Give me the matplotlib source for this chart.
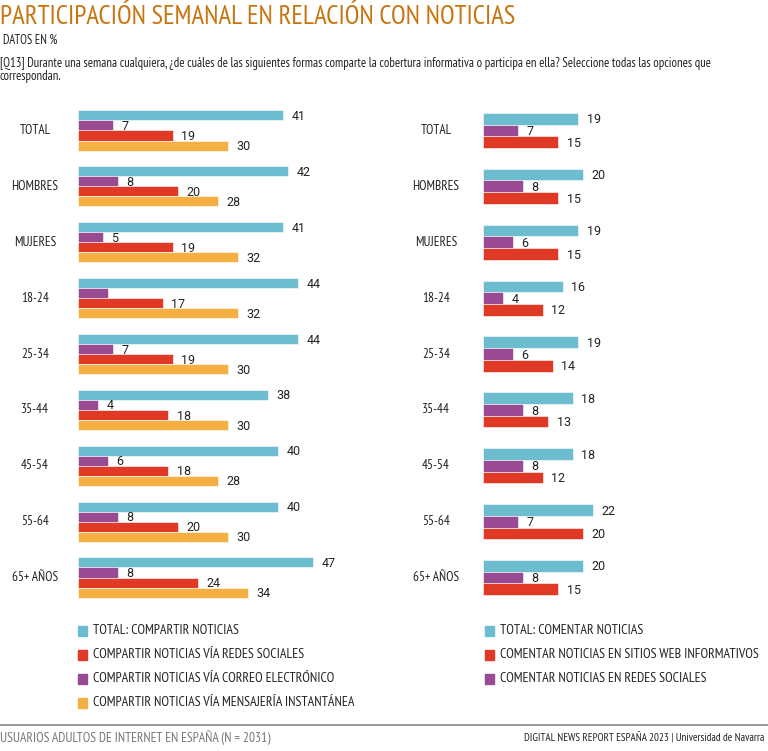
"""Weekly news participation chart (Digital News Report España 2023)."""

import matplotlib
matplotlib.use("Agg")
import matplotlib.pyplot as plt
from matplotlib.patches import Rectangle

BODY_FONT = ["PT Sans Narrow", "Liberation Sans Narrow", "DejaVu Sans"]
NUM_FONT = ["Roboto", "DejaVu Sans"]
plt.rcParams["font.family"] = BODY_FONT

CATEGORIES = ["TOTAL", "HOMBRES", "MUJERES", "18-24", "25-34", "35-44", "45-54", "55-64", "65+ AÑOS"]

# left panel: sharing news
share_total = [41, 42, 41, 44, 44, 38, 40, 40, 47]
share_email = [7, 8, 5, 6, 7, 4, 6, 8, 8]
share_social = [19, 20, 19, 17, 19, 18, 18, 20, 24]
share_im = [30, 28, 32, 32, 30, 30, 28, 30, 34]
# the 18-24 email bar carries no printed value in the source
share_email_labels = ["7", "8", "5", "", "7", "4", "6", "8", "8"]

# right panel: commenting news
comment_total = [19, 20, 19, 16, 19, 18, 18, 22, 20]
comment_social = [7, 8, 6, 4, 6, 8, 8, 7, 8]
comment_web = [15, 15, 15, 12, 14, 13, 12, 20, 15]

CYAN = "#6bbdcf"
PURPLE = "#984b93"
RED = "#e03a26"
ORANGE = "#f4b043"
TITLE_COLOR = "#c87510"
TEXT = "#222222"
GREY = "#777777"

W, H = 768, 751


def fx(px):
    return px / W


def fy(py):
    return 1 - py / H


def draw_panel(ax, series, labels, bar_h):
    n = len(series)
    for i in range(len(CATEGORIES)):
        for j, (vals, color) in enumerate(series):
            y = i - bar_h * n / 2 + bar_h * (j + 0.5)
            ax.barh(y, vals[i], height=bar_h, color=color, edgecolor="white", linewidth=0.4)
            lab = labels[j][i]
            if lab:
                ax.text(vals[i] + 1.7, y + 0.02, lab, ha="left", va="center",
                        fontsize=9, color=TEXT, family=NUM_FONT)
    ax.set_xlim(0, 50)
    ax.set_ylim(len(CATEGORIES) - 0.5, -0.5)
    ax.axis("off")


fig = plt.figure(figsize=(W / 100, H / 100), dpi=100)

top_px, bottom_px = 102.5, 605.5
ax_h = (bottom_px - top_px) / H
ax_w = 250 / W
axl = fig.add_axes([fx(78), fy(bottom_px), ax_w, ax_h])
axr = fig.add_axes([fx(483), fy(bottom_px), ax_w, ax_h])

draw_panel(
    axl,
    [(share_total, CYAN), (share_email, PURPLE), (share_social, RED), (share_im, ORANGE)],
    [[str(v) for v in share_total], share_email_labels,
     [str(v) for v in share_social], [str(v) for v in share_im]],
    0.18,
)
draw_panel(
    axr,
    [(comment_total, CYAN), (comment_social, PURPLE), (comment_web, RED)],
    [[str(v) for v in comment_total], [str(v) for v in comment_social],
     [str(v) for v in comment_web]],
    0.21,
)

# category labels
step = (bottom_px - top_px) / len(CATEGORIES)
for i, cat in enumerate(CATEGORIES):
    yc = top_px + step * (i + 0.5)
    fig.text(fx(35), fy(yc), cat, ha="center", va="center", fontsize=9.5, color=TEXT)
    fig.text(fx(436), fy(yc), cat, ha="center", va="center", fontsize=9.5, color=TEXT)

# header
fig.text(fx(0), fy(17), "PARTICIPACIÓN SEMANAL EN RELACIÓN CON NOTICIAS",
         ha="left", va="center", fontsize=19.2, color=TITLE_COLOR)
fig.text(fx(3), fy(40), "DATOS EN %", ha="left", va="center", fontsize=9, color=TEXT)
fig.text(fx(0), fy(63),
         "[Q13] Durante una semana cualquiera, ¿de cuáles de las siguientes formas comparte la "
         "cobertura informativa o participa en ella? Seleccione todas las opciones que",
         ha="left", va="center", fontsize=9.1, color=TEXT)
fig.text(fx(0), fy(76.5), "correspondan.", ha="left", va="center", fontsize=9.1, color=TEXT)

# legends
legend_left = [
    (CYAN, "TOTAL: COMPARTIR NOTICIAS"),
    (RED, "COMPARTIR NOTICIAS VÍA REDES SOCIALES"),
    (PURPLE, "COMPARTIR NOTICIAS VÍA CORREO ELECTRÓNICO"),
    (ORANGE, "COMPARTIR NOTICIAS VÍA MENSAJERÍA INSTANTÁNEA"),
]
legend_right = [
    (CYAN, "TOTAL: COMENTAR NOTICIAS"),
    (RED, "COMENTAR NOTICIAS EN SITIOS WEB INFORMATIVOS"),
    (PURPLE, "COMENTAR NOTICIAS EN REDES SOCIALES"),
]
for x0, items in [(78, legend_left), (485, legend_right)]:
    for k, (color, label) in enumerate(items):
        yc = 631 + 24 * k
        fig.patches.append(Rectangle((fx(x0), fy(yc + 5)), 9 / W, 10 / H,
                                     transform=fig.transFigure, color=color))
        fig.text(fx(x0 + 15), fy(yc), label, ha="left", va="center", fontsize=10, color=TEXT)

# footer
fig.add_artist(plt.Line2D([0, 1], [fy(725), fy(725)], transform=fig.transFigure,
                          color="#888888", linewidth=1.2))
fig.text(fx(0), fy(738), "USUARIOS ADULTOS DE INTERNET EN ESPAÑA (N = 2031)",
         ha="left", va="center", fontsize=9.7, color=GREY)
fig.text(fx(764), fy(738), "DIGITAL NEWS REPORT ESPAÑA 2023 | Universidad de Navarra",
         ha="right", va="center", fontsize=7.9, color=TEXT)

fig.savefig("out.png", dpi=100)
